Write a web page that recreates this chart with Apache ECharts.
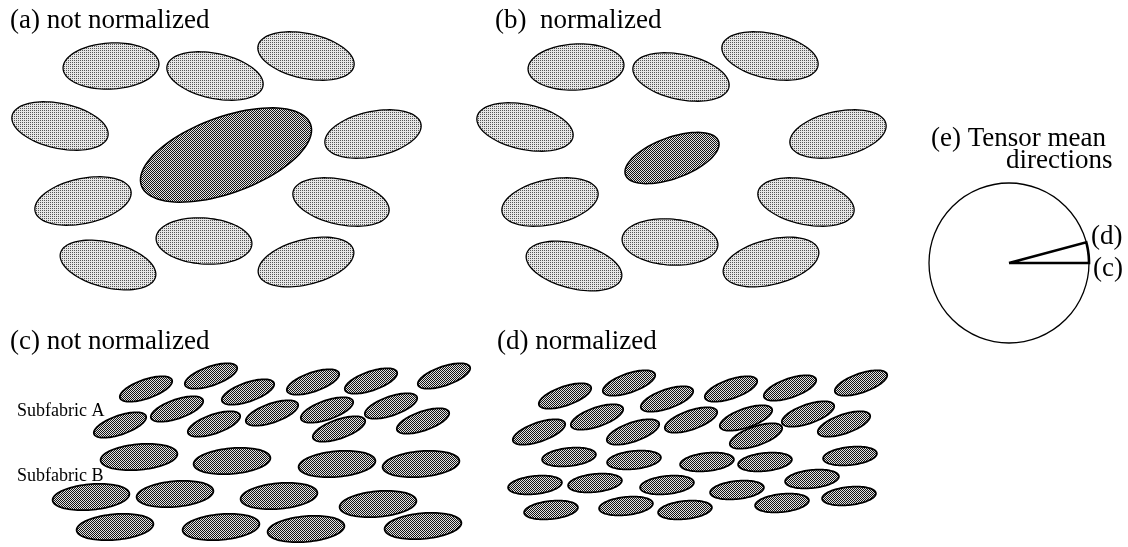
<!DOCTYPE html>
<html><head><meta charset="utf-8">
<script src="https://cdn.jsdelivr.net/npm/echarts/dist/echarts.min.js"></script>
<style>html,body{margin:0;padding:0;background:#fff}#c{width:1128px;height:547px}</style>
</head><body><div id="c"></div>
<script>
// Each ellipse: [centerX, centerY, semiMajor, semiMinor, tiltDeg]  (chart units, y downward)
const panelALight = [
  [111,66,48,23,3],[215,76,49,22.5,-12],[306,56,49,22.5,-12],[60,126,49,22.5,-12],
  [373,134,49,22.5,12],[83,201,49,22.5,12],[341,202,49,22.5,-12],[204,241,48,23,-4],
  [108,265,49,22.5,-14],[306,262,49,22.5,14]
];
const panelADark = [[226,155,90,38,20]];
const panelBLight = [
  [576,67,48,23,3],[681,77,49,22.5,-12],[770,56,49,22.5,-12],[525,127,49,22.5,-12],
  [838,134,49,22.5,12],[550,202,49,22.5,12],[806,202,49,22.5,-12],[670,242,48,23,-4],
  [574,266,49,22.5,-14],[771,262,49,22.5,14]
];
const panelBDark = [[672,158,49.5,20.5,20]];
const panelCSubA = [
  [146,389,27.5,9.5,19],[211,376,27.5,9.5,19],[248,392,27.5,9.5,19],[313,382,27.5,9.5,19],[371,381,27.5,9.5,19],[444,376,27.5,9.5,19],
  [120,425,27.5,9.5,19],[177,409,27.5,9.5,19],[214,424,27.5,9.5,19],[272,413,27.5,9.5,19],[327,410,27.5,9.5,19],[391,406,27.5,9.5,19],
  [339,429,27.5,9.5,19],[423,421,27.5,9.5,19]
];
const panelCSubB = [
  [139,457,38.5,12.8,5],[232,461,38.5,12.8,5],[337,464,38.5,12.8,5],[421,464,38.5,12.8,5],
  [91,497,38.5,12.8,5],[175,494,38.5,12.8,5],[279,496,38.5,12.8,5],[378,504,38.5,12.8,5],
  [115,527,38.5,12.8,5],[221,527,38.5,12.8,5],[306,529,38.5,12.8,5],[423,526,38.5,12.8,5]
];
const panelDSubA = [
  [565,396,27.5,9.5,19],[629,383,27.5,9.5,19],[667,399,27.5,9.5,19],[731,389,27.5,9.5,19],[790,388,27.5,9.5,19],[861,383,27.5,9.5,19],
  [539,432,27.5,9.5,19],[597,417,27.5,9.5,19],[633,432,27.5,9.5,19],[691,420,27.5,9.5,19],[746,418,27.5,9.5,19],[808,414,27.5,9.5,19],
  [756,436,27.5,9.5,19],[844,424,27.5,9.5,19]
];
const panelDSubB = [
  [569,457,27,9,6],[634,460,27,9,6],[707,462,27,9,6],[765,462,27,9,6],[850,456,27,9,6],
  [535,485,27,9,6],[595,483,27,9,6],[667,485,27,9,6],[737,490,27,9,6],[812,479,27,9,6],
  [551,510,27,9,6],[626,506,27,9,6],[685,510,27,9,6],[782,503,27,9,6],[849,496,27,9,6]
];
// Tensor mean directions panel: circle [cx, cy, r], directions in degrees
const tensorCircle = [[1009,263,80]];
const tensorDirections = [0, 15];
const directionLabels = ['(c)', '(d)'];

function makePattern(kind){
  const cv = document.createElement('canvas');
  cv.width = 2; cv.height = 2;
  const g = cv.getContext('2d');
  if (kind === 'light') {
    g.fillStyle = '#e6e6e6'; g.fillRect(0,0,2,2);
    g.fillStyle = '#555555'; g.fillRect(0,0,1,1);
  } else {
    g.fillStyle = '#e2e2e2'; g.fillRect(0,0,2,2);
    g.fillStyle = '#141414'; g.fillRect(0,0,1,1); g.fillRect(1,1,1,1);
  }
  return {image: cv, repeat: 'repeat'};
}
const lightFill = makePattern('light');
const darkFill = makePattern('dark');

function ellipseRender(fill, stroke, lw){
  return function(params, api){
    const cx = api.value(0), cy = api.value(1), a = api.value(2), b = api.value(3);
    const ang = api.value(4) * Math.PI / 180;
    const pts = [];
    for (let i = 0; i < 90; i++) {
      const t = i / 90 * 2 * Math.PI;
      const x = cx + a*Math.cos(ang)*Math.cos(t) - b*Math.sin(ang)*Math.sin(t);
      const y = cy - (a*Math.sin(ang)*Math.cos(t) + b*Math.cos(ang)*Math.sin(t));
      pts.push(api.coord([x, y]));
    }
    return {type:'polygon', shape:{points:pts}, style:{fill:fill, stroke:stroke, lineWidth:lw}};
  };
}
function ellSeries(data, fill, lw){
  return {type:'custom', coordinateSystem:'cartesian2d', silent:true, animation:false,
    dimensions:['x','y','a','b','ang'], encode:{x:0,y:1},
    renderItem: ellipseRender(fill, '#000', lw), data: data};
}

const series = [
  ellSeries(panelALight, lightFill, 1.3),
  ellSeries(panelADark, darkFill, 1.5),
  ellSeries(panelBLight, lightFill, 1.3),
  ellSeries(panelBDark, darkFill, 1.5),
  ellSeries(panelCSubA, darkFill, 1.8),
  ellSeries(panelCSubB, darkFill, 1.8),
  ellSeries(panelDSubA, darkFill, 1.8),
  ellSeries(panelDSubB, darkFill, 1.8),
  {type:'custom', coordinateSystem:'cartesian2d', silent:true, animation:false,
   encode:{x:0,y:1}, data: tensorCircle,
   renderItem: function(params, api){
     const cx = api.value(0), cy = api.value(1), r = api.value(2);
     const ctr = api.coord([cx, cy]);
     const rp = api.size([r, r])[0];
     const d0 = Math.min.apply(null, tensorDirections), d1 = Math.max.apply(null, tensorDirections);
     const pts = [[cx, cy]];
     for (let i = 0; i <= 10; i++) {
       const d = (d1 - (d1 - d0) * i / 10) * Math.PI / 180;
       pts.push([cx + r*Math.cos(d), cy - r*Math.sin(d)]);
     }
     pts.push([cx, cy]);
     return {type:'group', children:[
       {type:'circle', shape:{cx:ctr[0], cy:ctr[1], r:rp}, style:{fill:'#fff', stroke:'#000', lineWidth:1.3}},
       {type:'polyline', shape:{points: pts.map(p => api.coord(p))}, style:{fill:null, stroke:'#000', lineWidth:2.6, lineJoin:'miter'}}
     ]};
   }}
];

const serif = '"Liberation Serif", "Times New Roman", serif';
function txt(text, x, y, size){
  return {type:'text', x:x, y:y, silent:true,
    style:{text:text, font: size + 'px ' + serif, fill:'#000', textAlign:'left', textVerticalAlign:'middle'}};
}
const titles = [
  txt('(a) not normalized', 10, 21, 27),
  txt('(b)  normalized', 495, 21, 27),
  txt('(c) not normalized', 10, 342, 27),
  txt('(d) normalized', 497, 342, 27),
  txt('(e) Tensor mean', 931, 139, 27),
  txt('directions', 1006, 161, 27),
  txt(directionLabels[1], 1091, 237, 27),
  txt(directionLabels[0], 1093, 269, 27),
  txt('Subfabric A', 17, 411, 18),
  txt('Subfabric B', 17, 476, 18)
];

const chart = echarts.init(document.getElementById('c'), null, {renderer:'canvas'});
chart.setOption({
  backgroundColor:'#fff',
  animation:false,
  grid:{left:0, right:0, top:0, bottom:0},
  xAxis:{type:'value', min:0, max:1128, show:false},
  yAxis:{type:'value', min:0, max:547, inverse:true, show:false},
  series: series,
  graphic: {elements: titles}
});
</script></body></html>
